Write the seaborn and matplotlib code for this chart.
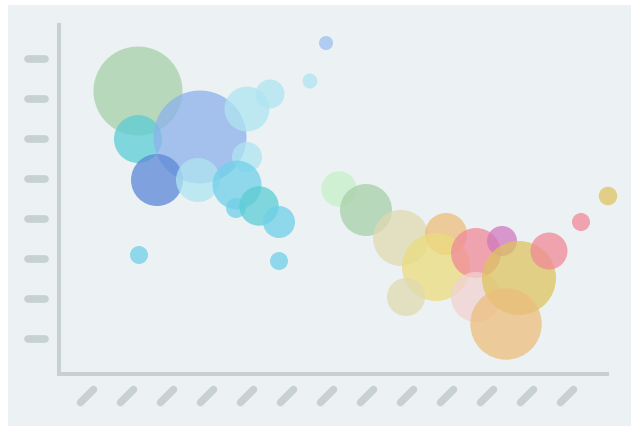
import numpy as np
import pandas as pd
import matplotlib
matplotlib.use("Agg")
import matplotlib.pyplot as plt
import matplotlib.transforms as mtransforms
from matplotlib.lines import Line2D
from matplotlib.patches import Rectangle
import seaborn as sns

# bubble data (x, y, magnitude, colour group)
x_vals = [1.125, 1.125, 2.675, 1.6, 2.625, 3.85, 4.425, 5.425, 3.85, 3.6,
          3.575, 4.15, 4.65, 4.65, 1.15, 5.825, 6.15, 6.825, 7.7, 8.825,
          8.575, 7.825, 9.575, 10.225, 9.575, 10.65, 10.325, 11.4, 12.2, 12.875]
y_vals = [7.2, 6.0, 6.05, 4.975, 4.975, 6.75, 7.125, 7.45, 5.55, 4.85,
          4.275, 4.325, 3.925, 2.95, 3.1, 8.4, 4.75, 4.225, 3.525, 3.625,
          2.8, 2.05, 3.15, 3.45, 2.05, 2.525, 1.375, 3.2, 3.925, 4.575]
magnitude = [1980, 576, 2162, 676, 484, 506, 210, 56, 225, 600,
             100, 388, 256, 81, 81, 49, 313, 676, 784, 441,
             1156, 361, 625, 225, 625, 1369, 1274, 342, 81, 86]
group = ["green", "teal", "blue", "navy", "ice", "ice", "ice", "ice", "ice", "cyan",
         "cyan", "teal", "cyan", "cyan", "cyan", "sky", "mint", "green", "sand", "apricot",
         "lemon", "sand", "rose", "orchid", "blush", "gold", "apricot", "rose", "rose", "gold"]

palette = {
    "green": "#A7D0A9", "teal": "#5BCDD4", "blue": "#8CB2EC", "navy": "#5B88D7",
    "ice": "#AFE5F1", "cyan": "#70D0E9", "mint": "#C7F0C9", "sand": "#E0D9B1",
    "apricot": "#EDBD7C", "lemon": "#EBDC7D", "rose": "#F18998", "orchid": "#D178BF",
    "blush": "#F1D2D1", "gold": "#DDC45F", "sky": "#9CC0F0",
}

x_ticks = np.arange(13)
y_ticks = np.arange(1, 9)

bg = "#ECF1F4"
axis_grey = "#C6D1D0"

df = pd.DataFrame({"x": x_vals, "y": y_vals, "m": magnitude, "g": group})

sns.set_style("white", {"axes.facecolor": bg, "axes.edgecolor": axis_grey})

W, H = 631, 426
fig = plt.figure(figsize=(W / 100, H / 100), dpi=100, facecolor="white")
fig.add_artist(Rectangle((8 / W, 0), 1, 421 / H, transform=fig.transFigure,
                         facecolor=bg, edgecolor="none", zorder=-5))

ax = fig.add_axes([59 / W, 1 - 374 / H, (607 - 59) / W, (374 - 25) / H])

# area scale: magnitude is px^2 of the radius -> points^2
k = (2 * 0.72) ** 2
mmin, mmax = min(magnitude), max(magnitude)
sns.scatterplot(data=df, x="x", y="y", size="m", sizes=(k * mmin, k * mmax),
                size_norm=(mmin, mmax), hue="g", palette=palette, alpha=0.75,
                linewidth=0, legend=False, ax=ax)
for coll in ax.collections:
    coll.set_clip_on(False)

ax.set_xlim(-0.85, 12.85)
ax.set_ylim(0.125, 8.85)
ax.set_xticks(x_ticks)
ax.set_yticks(y_ticks)
ax.set_xticklabels([])
ax.set_yticklabels([])
ax.set_xlabel("")
ax.set_ylabel("")
ax.tick_params(length=4.5, width=1, color="#DCE4E7", direction="out")
sns.despine(ax=ax)
for side in ["left", "bottom"]:
    ax.spines[side].set_linewidth(2.9)
    ax.spines[side].set_color(axis_grey)

# placeholder tick labels drawn as rounded bars
ident = mtransforms.IdentityTransform()
for yt in y_ticks:
    _, py = ax.transData.transform((0, yt))
    fig.add_artist(Line2D([27.5, 44.5], [py, py], transform=ident, color=axis_grey,
                          linewidth=5.5, solid_capstyle="round"))
for xt in x_ticks:
    px, _ = ax.transData.transform((xt, 0))
    base = H - 374
    fig.add_artist(Line2D([px - 12.5, px + 0.5], [base - 28.5, base - 15.5],
                          transform=ident, color=axis_grey, linewidth=5.4,
                          solid_capstyle="round"))

fig.savefig("out.png", dpi=100, facecolor="white")
